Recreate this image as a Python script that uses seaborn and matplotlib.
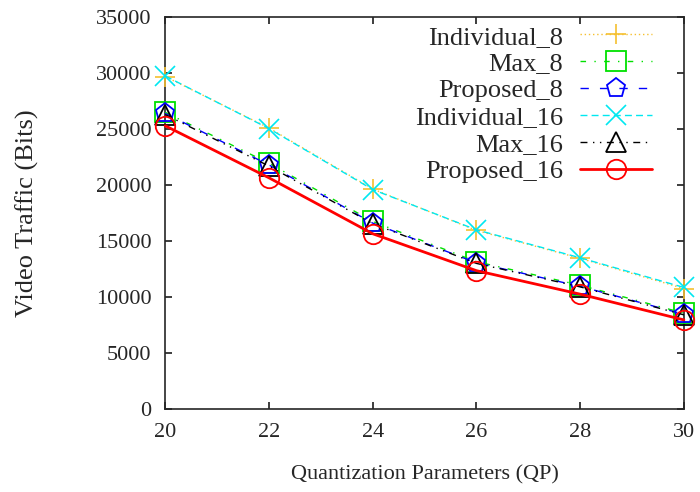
import pandas as pd
import seaborn as sns
import matplotlib
matplotlib.use('Agg')
import matplotlib.pyplot as plt

qp = [20, 22, 24, 26, 28, 30]
individual_8 = [29700, 25100, 19650, 15950, 13450, 10750]
max_8 = [26500, 21950, 16750, 13150, 11050, 8550]
proposed_8 = [26400, 21800, 16600, 13050, 10950, 8450]
individual_16 = [29750, 25050, 19600, 16000, 13500, 10850]
max_16 = [26300, 21700, 16550, 13000, 10900, 8400]
proposed_16 = [25300, 20650, 15650, 12350, 10250, 7950]

series = [
    ('Individual_8', individual_8, '#f5c030', (0, (1, 2)), '+', 1.0),
    ('Max_8', max_8, '#00e000', (0, (4, 6, 1, 6)), 's', 1.0),
    ('Proposed_8', proposed_8, '#0000ff', (0, (6, 8)), 'p', 1.0),
    ('Individual_16', individual_16, '#00e8f0', (0, (5, 3)), 'x', 1.0),
    ('Max_16', max_16, '#000000', (0, (5, 4, 1, 4, 1, 4)), '^', 1.0),
    ('Proposed_16', proposed_16, '#ff0000', '-', 'o', 2.0),
]

sns.set_theme(style='ticks')
plt.rcParams['font.family'] = ['Liberation Serif', 'DejaVu Serif']

fig = plt.figure(figsize=(7, 4.92), dpi=100)
ax = fig.add_axes([0.236, 0.169, 0.741, 0.796])

for name, vals, color, ls, marker, lw in series:
    df = pd.DataFrame({'QP': qp, 'Bits': vals})
    filled = marker in ('+', 'x')
    sns.lineplot(x='QP', y='Bits', data=df, ax=ax, label=name, color=color,
                 linestyle=ls, linewidth=lw, marker=marker, markersize=14,
                 markerfacecolor=color if filled else 'none',
                 markeredgecolor=color, markeredgewidth=1.3 if not filled else 1.2,
                 clip_on=False, zorder=3)

ax.set_xlim(20, 30)
ax.set_ylim(0, 35000)
ax.set_xticks(qp)
ax.set_yticks(range(0, 35001, 5000))
ax.tick_params(direction='in', top=True, right=True, labelsize=16, length=5, pad=10)
for s in ax.spines.values():
    s.set_linewidth(1.2)
ax.set_xlabel('Quantization Parameters (QP)', fontsize=16, labelpad=17)
ax.set_ylabel('Video Traffic (Bits)', fontsize=19)
ax.yaxis.set_label_coords(-0.243, 0.5)

ax.legend(loc='upper right', bbox_to_anchor=(0.938, 0.98), markerfirst=False,
          frameon=False, fontsize=19, handlelength=2.7, labelspacing=0.13,
          borderpad=0, borderaxespad=0, handletextpad=0.65)

fig.savefig('out.png', dpi=100)
